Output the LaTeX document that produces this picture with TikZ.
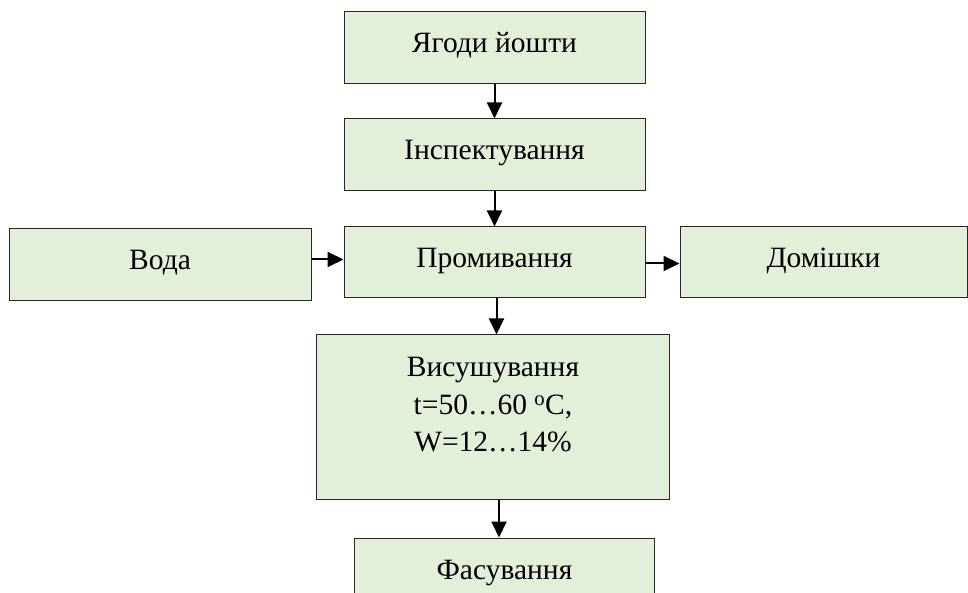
\documentclass[tikz,border=0pt]{standalone}
\usepackage{fontspec}
\setmainfont{Liberation Serif}
\usepackage{xcolor}
\usepackage{tikz}
\usetikzlibrary{arrows.meta,positioning,calc}
\definecolor{stepgreen}{HTML}{E2EFD9}
\definecolor{stepline}{HTML}{262626}

\begin{document}
\begin{tikzpicture}[
        x=1pt, y=1pt,
        node distance=34pt,
        every node/.style={font=\fontsize{29.5}{37.5}\selectfont},
        box/.style={rectangle, draw=stepline, line width=1pt, fill=stepgreen,
            minimum width=301pt, minimum height=72pt, inner sep=0pt,
            text height=19pt, text depth=9pt},
        flow/.style={-{Triangle[length=16pt, width=15pt]}, line width=2pt, black}
    ]
        \clip (0,0) rectangle (968,592);
        \node[box] (berries) at (494.5,544) {Ягоди йошти};
        \node[box, below=34pt of berries] (inspect) {Інспектування};
        \node[box, below=35pt of inspect, minimum height=71pt] (wash) {Промивання};
        \node[box, left=32pt of wash, minimum width=302pt, yshift=-2pt] (water) {Вода};
        \node[box, right=34pt of wash, minimum width=287pt, minimum height=71pt] (impur) {Домішки};
        \node[box, below=36pt of wash, xshift=-1.5pt, minimum width=353pt, minimum height=164pt,
            text height=, text depth=, align=center] (dry)
            {Висушування\\ t=50…60 \textsuperscript{o}C,\\ W=12…14\%\\[-24pt] \strut};
        \node[box, below=38pt of dry, xshift=11.5pt, minimum width=300pt] (pack) {Фасування};

        \draw[flow] (berries.south) -- (inspect.north);
        \draw[flow] (inspect.south) -- (wash.north);
        \draw[flow] ([xshift=2pt]wash.south) -- ([xshift=2pt]wash.south |- dry.north);
        \draw[flow] ([xshift=6pt]dry.south) -- ([xshift=6pt]dry.south |- pack.north);
        \draw[flow] ([yshift=5pt]water.east) -- ([yshift=5pt]water.east -| wash.west);
        \draw[flow] ([yshift=-1pt]wash.east) -- ([yshift=-1pt]wash.east -| impur.west);
    \end{tikzpicture}
\end{document}
